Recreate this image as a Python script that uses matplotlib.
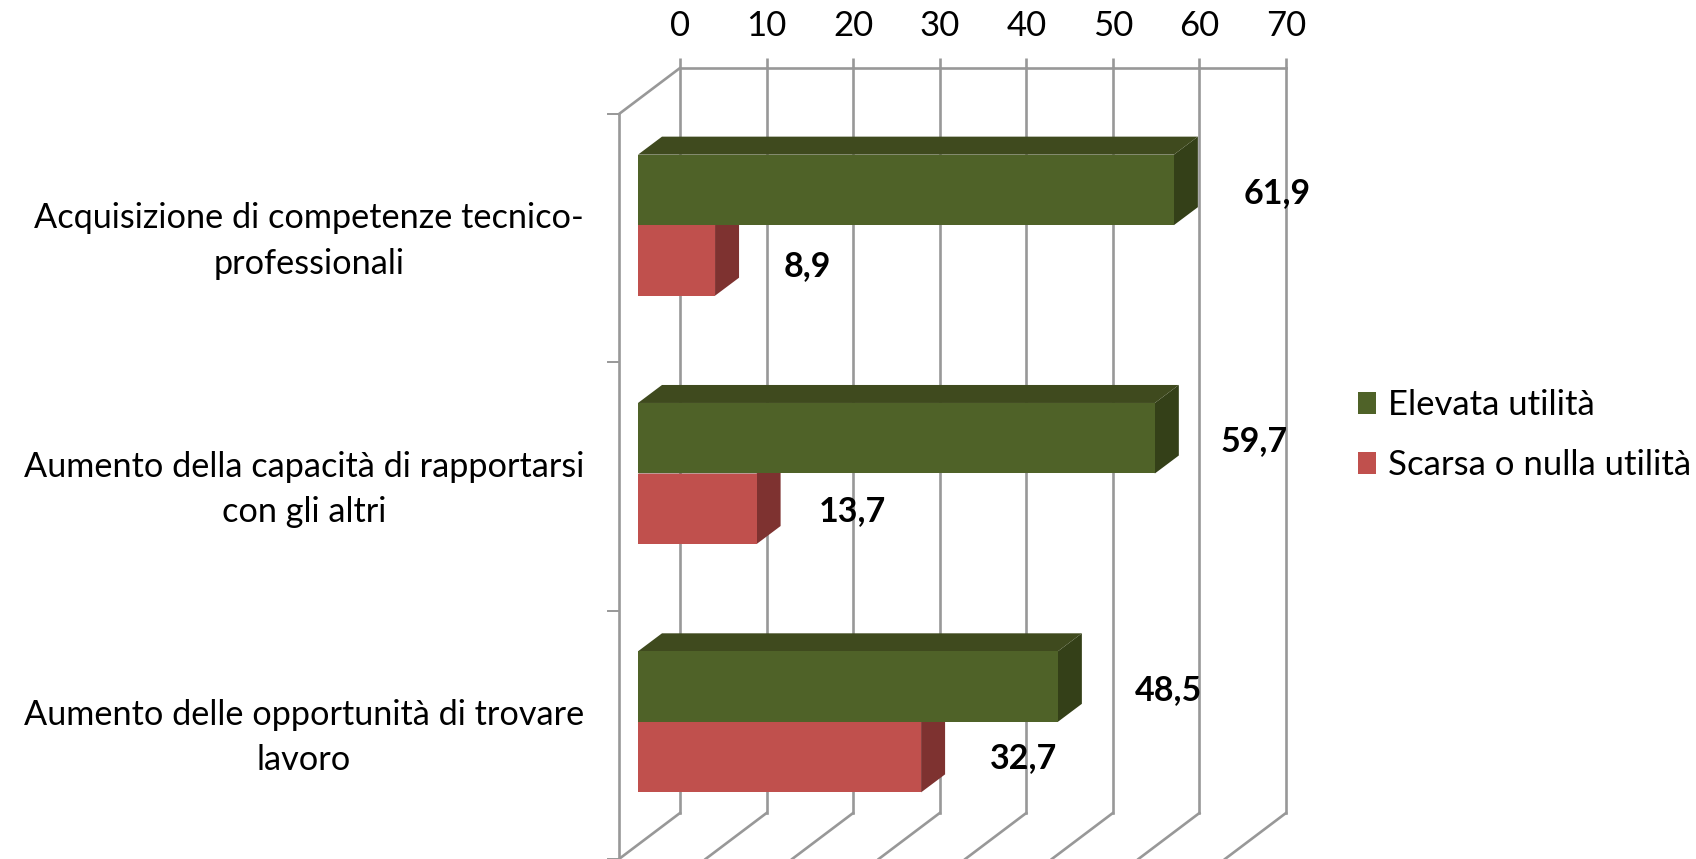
import matplotlib
matplotlib.use("Agg")
import matplotlib.pyplot as plt
from matplotlib.patches import Polygon

plt.rcParams['font.family'] = ['Lato', 'DejaVu Sans']

categories = ["Acquisizione di competenze tecnico-\nprofessionali",
              "Aumento della capacità di rapportarsi\ncon gli altri",
              "Aumento delle opportunità di trovare\nlavoro"]
elevata = [61.9, 59.7, 48.5]
scarsa = [8.9, 13.7, 32.7]
series_names = ["Elevata utilità", "Scarsa o nulla utilità"]
x_ticks = [0, 10, 20, 30, 40, 50, 60, 70]

W, H = 1696, 859
PT = 0.72  # points per pixel at 100 dpi
fig = plt.figure(figsize=(W / 100, H / 100), dpi=100, facecolor='white')
L, R, T, B = 680, 1286, 68, 813
ax = fig.add_axes([L / W, 1 - B / H, (R - L) / W, (B - T) / H])
ax.set_xlim(0, 70)
ax.set_ylim(3, 0)
kx = 70 / (R - L)
ky = 3 / (B - T)
GRID = '#989898'
FS = 25
LW = 1.9

ax.patch.set_alpha(0)
for s in ['left', 'right', 'bottom']:
    ax.spines[s].set_visible(False)
ax.spines['top'].set_color(GRID)
ax.spines['top'].set_linewidth(LW)
ax.xaxis.tick_top()
ax.set_xticks(x_ticks)
ax.tick_params(axis='x', length=7.5, width=LW, color=GRID, labelsize=FS, pad=11.5, labelcolor='black')
ax.set_yticks([])
ax.xaxis.grid(True, color=GRID, linewidth=LW, clip_on=False)
ax.set_axisbelow(True)

# depth of the 3D box
wall_dx, wall_dy = -61 * kx, 46 * ky
line = dict(color=GRID, lw=LW, clip_on=False, zorder=1, solid_capstyle='projecting')
for v in x_ticks:
    ax.plot([v, v + wall_dx], [3, 3 + wall_dy], **line)
ax.plot([0, wall_dx], [0, wall_dy], **line)
ax.plot([wall_dx, wall_dx], [wall_dy, 3 + wall_dy], **line)
for i in range(4):
    ax.plot([wall_dx, wall_dx - 11 * kx], [i + wall_dy, i + wall_dy], color=GRID, lw=1.4,
            clip_on=False, zorder=1)

# bars
bar_h = 0.284
front_dx, front_dy = -42 * kx, 33 * ky
back_dx, back_dy = -18 * kx, 15 * ky
colors = [('#4F6228', '#3F4A1E', '#344018'), ('#C0504D', '#7E3230', '#7E3230')]


def box(value, top, cols):
    x0, x1 = front_dx, front_dx + value
    bx0, bx1 = back_dx, back_dx + value
    yt, yb = top + front_dy, top + bar_h + front_dy
    byt, byb = top + back_dy, top + bar_h + back_dy
    ax.add_patch(Polygon([(x1, yt), (bx1, byt), (bx1, byb), (x1, yb)], closed=True, fc=cols[2],
                         ec='none', zorder=3, clip_on=False))
    ax.add_patch(Polygon([(x0, yt), (bx0, byt), (bx1, byt), (x1, yt)], closed=True, fc=cols[1],
                         ec='none', zorder=3, clip_on=False))
    ax.barh(top + bar_h / 2 + front_dy, value, height=bar_h, left=x0, color=cols[0], zorder=4,
            clip_on=False, edgecolor='none')


for i in range(3):
    box(scarsa[i], i + 0.5, colors[1])
    box(elevata[i], i + 0.5 - bar_h, colors[0])

# value labels: pixel offset from the bar end on the back plane
elev_off = [(61, 125), (57, 125), (69, 125)]
scar_off = [(50, 198), (54, 195), (60, 193)]
for i in range(3):
    for vals, offs in ((elevata, elev_off), (scarsa, scar_off)):
        dx, dy = offs[i]
        ax.annotate(f"{vals[i]:.1f}".replace('.', ','), (vals[i], i), xytext=(dx * PT, -dy * PT),
                    textcoords='offset points', ha='center', va='center', fontsize=FS - 0.5,
                    fontweight='bold', zorder=6, annotation_clip=False)

# category labels
for i, c in enumerate(categories):
    ax.annotate(c, (0, i), xytext=((584 - L) * PT, -(241 - T) * PT),
                textcoords='offset points', ha='right', va='center', multialignment='center',
                fontsize=FS - 0.3, linespacing=1.5, annotation_clip=False)

# legend
handles = [plt.Rectangle((0, 0), 1, 1, fc=colors[0][0]), plt.Rectangle((0, 0), 1, 1, fc=colors[1][0])]
fig.legend(handles, series_names, loc='center left', bbox_to_anchor=(1358 / W, 1 - 435 / H), frameon=False,
           fontsize=FS, handlelength=0.52, handleheight=0.6, handletextpad=0.33, labelspacing=0.82,
           borderpad=0, borderaxespad=0)

fig.savefig('out.png', dpi=100, facecolor='white')
